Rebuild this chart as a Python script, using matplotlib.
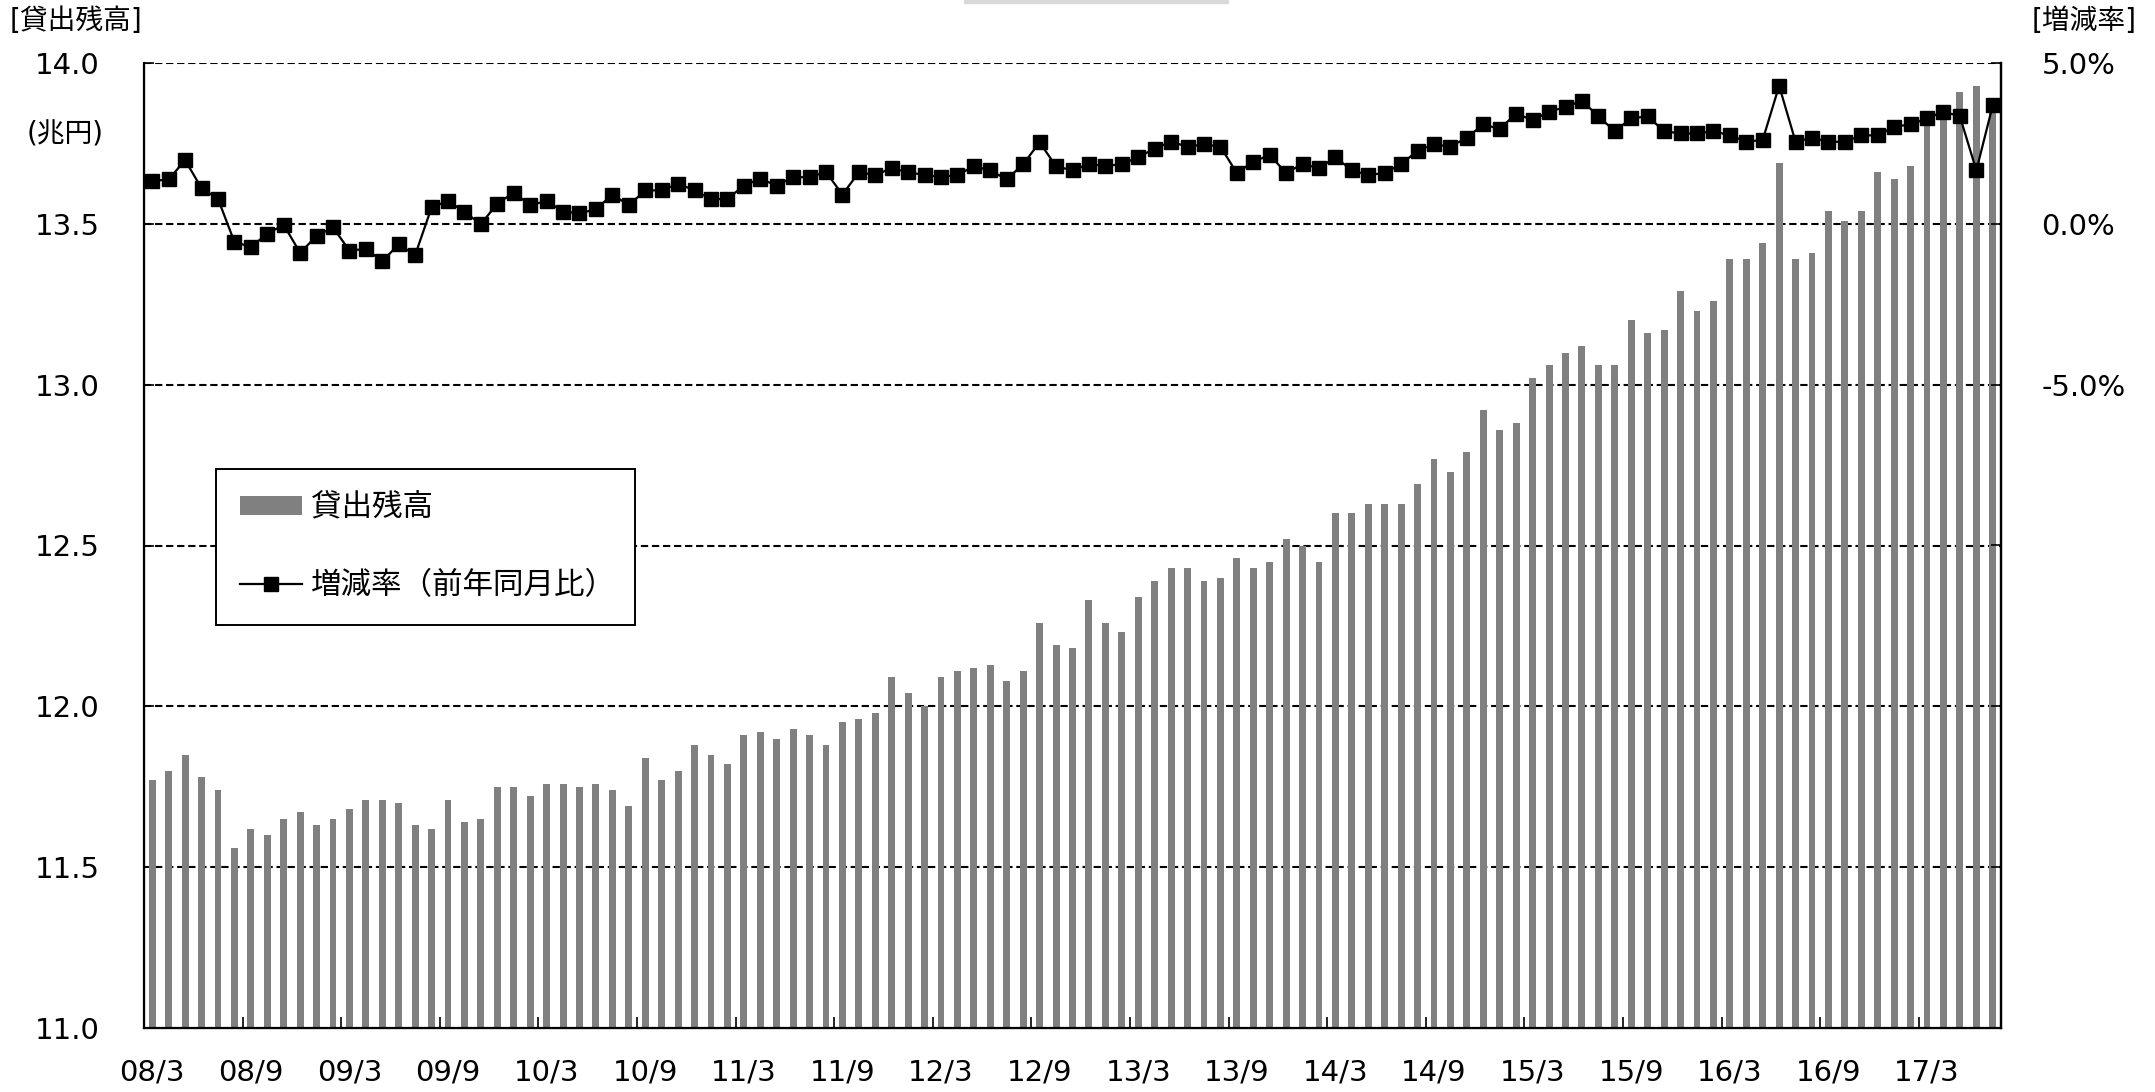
import numpy as np
import matplotlib
matplotlib.use("Agg")
import matplotlib.pyplot as plt
from matplotlib.lines import Line2D
from matplotlib.patches import Patch, Rectangle

plt.rcParams["font.family"] = ["DejaVu Sans", "Noto Sans CJK JP"]

# monthly data, 2008/3 - 2017/7
start_year, start_month = 2008, 3
n_months = 113

# 貸出残高 (兆円)
balance = [
    11.77, 11.80, 11.85, 11.78, 11.74, 11.56, 11.62, 11.60, 11.65, 11.67,
    11.63, 11.65, 11.68, 11.71, 11.71, 11.70, 11.63, 11.62, 11.71, 11.64,
    11.65, 11.75, 11.75, 11.72, 11.76, 11.76, 11.75, 11.76, 11.74, 11.69,
    11.84, 11.77, 11.80, 11.88, 11.85, 11.82, 11.91, 11.92, 11.90, 11.93,
    11.91, 11.88, 11.95, 11.96, 11.98, 12.09, 12.04, 12.00, 12.09, 12.11,
    12.12, 12.13, 12.08, 12.11, 12.26, 12.19, 12.18, 12.33, 12.26, 12.23,
    12.34, 12.39, 12.43, 12.43, 12.39, 12.40, 12.46, 12.43, 12.45, 12.52,
    12.50, 12.45, 12.60, 12.60, 12.63, 12.63, 12.63, 12.69, 12.77, 12.73,
    12.79, 12.92, 12.86, 12.88, 13.02, 13.06, 13.10, 13.12, 13.06, 13.06,
    13.20, 13.16, 13.17, 13.29, 13.23, 13.26, 13.39, 13.39, 13.44, 13.69,
    13.39, 13.41, 13.54, 13.51, 13.54, 13.66, 13.64, 13.68, 13.83, 13.86,
    13.91, 13.93, 13.89,
]

# 増減率（前年同月比） %
growth = [
    1.33, 1.38, 1.98, 1.11, 0.78, -0.56, -0.72, -0.31, -0.03, -0.90,
    -0.38, -0.11, -0.83, -0.78, -1.16, -0.64, -0.97, 0.51, 0.71, 0.37,
    -0.01, 0.63, 0.97, 0.58, 0.71, 0.38, 0.33, 0.45, 0.91, 0.58,
    1.04, 1.04, 1.25, 1.04, 0.77, 0.77, 1.19, 1.40, 1.19, 1.45,
    1.45, 1.61, 0.91, 1.60, 1.52, 1.73, 1.60, 1.52, 1.46, 1.52,
    1.79, 1.66, 1.38, 1.86, 2.53, 1.79, 1.66, 1.86, 1.79, 1.86,
    2.07, 2.34, 2.55, 2.40, 2.47, 2.40, 1.58, 1.93, 2.14, 1.58,
    1.86, 1.73, 2.07, 1.66, 1.52, 1.58, 1.86, 2.27, 2.47, 2.40,
    2.68, 3.09, 2.95, 3.43, 3.22, 3.49, 3.63, 3.83, 3.34, 2.88,
    3.28, 3.34, 2.88, 2.81, 2.81, 2.88, 2.75, 2.55, 2.61, 4.29,
    2.55, 2.68, 2.55, 2.55, 2.75, 2.75, 3.02, 3.09, 3.28, 3.49,
    3.34, 1.66, 3.69,
]

month_labels = []
for i in range(n_months):
    m = start_month - 1 + i
    y = start_year + m // 12
    month_labels.append(f"{y % 100:02d}/{m % 12 + 1}")

left_ticks = [11.0, 11.5, 12.0, 12.5, 13.0, 13.5, 14.0]
right_ticks = [-25, -20, -15, -10, -5, 0, 5]
right_labels = ["", "", "", "", "-5.0%", "0.0%", "5.0%"]

W, H = 2155, 1092
fig = plt.figure(figsize=(W / 100, H / 100), dpi=100)
ax = fig.add_axes([144 / W, 1 - 1028 / H, 1857 / W, 965 / H])

x = np.arange(n_months)
bars = ax.bar(x, balance, width=0.42, color="#808080", zorder=2)

ax.set_xlim(-0.5, n_months - 0.5)
ax.set_ylim(11.0, 14.0)
ax.set_yticks(left_ticks)
ax.set_yticklabels([f"{v:.1f}" for v in left_ticks], fontsize=21)
ax.tick_params(axis="y", direction="in", length=7, width=1.2, pad=32)

# tick marks between categories, labels on the category every 6 months
ax.set_xticks(np.arange(5.5, n_months - 1, 6))
ax.set_xticklabels([])
ax.set_xticks(np.arange(0, n_months, 6), minor=True)
ax.set_xticklabels([month_labels[i] for i in range(0, n_months, 6)], minor=True, fontsize=21)
ax.tick_params(axis="x", which="major", direction="in", length=8, width=1.2)
ax.tick_params(axis="x", which="minor", length=0, pad=22)

for v in left_ticks[1:]:
    ax.axhline(v, color="black", lw=1.5, dashes=(3.5, 1.8), zorder=1)

for side in ["left", "bottom", "right"]:
    ax.spines[side].set_linewidth(1.6)
ax.spines["top"].set_visible(False)

ax2 = ax.twinx()
ax2.plot(x, growth, color="black", lw=1.6, marker="s", markersize=10, zorder=3)
ax2.set_ylim(-25, 5)
ax2.set_yticks(right_ticks)
ax2.set_yticklabels(right_labels, fontsize=21)
ax2.tick_params(axis="y", direction="in", length=7, width=1.2, pad=29)
ax2.spines["top"].set_visible(False)
ax2.spines["right"].set_linewidth(1.6)

fig.text(10 / W, 1 - 21 / H, "[貸出残高]", fontsize=20, ha="left", va="center")
fig.text(27 / W, 1 - 135 / H, "(兆円)", fontsize=20, ha="left", va="center")
fig.text(2032 / W, 1 - 21 / H, "[増減率]", fontsize=20, ha="left", va="center")

handles = [Patch(facecolor="#808080", edgecolor="none"),
           Line2D([], [], color="black", lw=1.6, marker="s", markersize=10)]
leg = ax2.legend(handles, ["貸出残高", "増減率（前年同月比）"],
                 bbox_to_anchor=(0.0388, 0.4155, 0.2256, 0.1637), loc="upper left",
                 mode="expand", borderaxespad=0, fontsize=22, fancybox=False,
                 edgecolor="black", framealpha=1, borderpad=0.8, labelspacing=1.6,
                 handlelength=2.0, handleheight=0.6, handletextpad=0.3)
leg.get_frame().set_linewidth(1.4)

# small grey strip at the top edge of the source image
fig.patches.append(Rectangle((964 / W, 1 - 3 / H), 264 / W, 3 / H,
                             transform=fig.transFigure, color="#d9d9d9"))

fig.savefig("out.png", dpi=100)
